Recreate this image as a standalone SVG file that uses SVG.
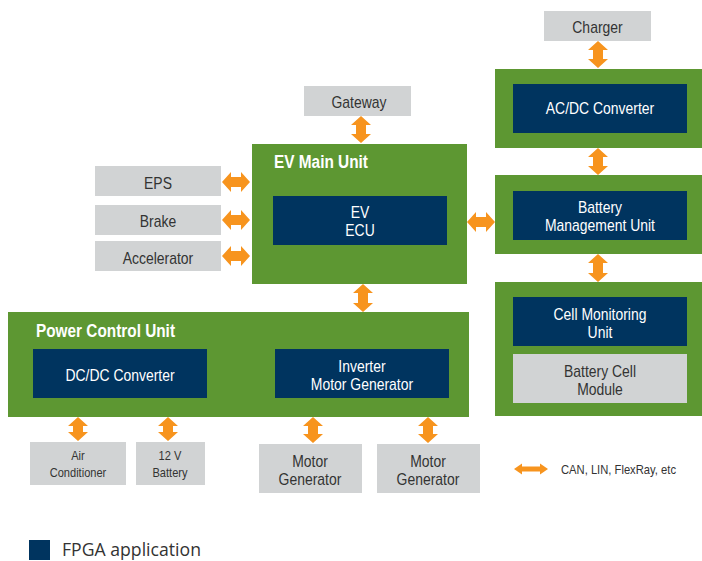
<svg xmlns="http://www.w3.org/2000/svg" width="702" height="561" viewBox="0 0 702 561">
<style>
.green{fill:#5d9732}
.navy{fill:#00345f}
.gray{fill:#d1d3d4}
.arr{fill:#f7941e}
text{font-family:"Liberation Sans",Arial,sans-serif;text-anchor:middle}
.wt{fill:#ffffff;font-size:17px}
.dt{fill:#333333;font-size:17px}
.sm{fill:#333333;font-size:13.5px}
.title{fill:#ffffff;font-size:18px;font-weight:bold;text-anchor:start}
</style>
<rect width="702" height="561" fill="#ffffff"/>
<g id="charger"><rect class="gray" x="544" y="11" width="107" height="30"/><text class="dt" x="597.5" y="33" textLength="50.4" lengthAdjust="spacingAndGlyphs">Charger</text></g>
<g id="acdc-unit"><rect class="green" x="495" y="69" width="207" height="79"/><rect class="navy" x="513" y="84" width="174" height="49"/><text class="wt" x="600" y="114" textLength="108.4" lengthAdjust="spacingAndGlyphs">AC/DC Converter</text></g>
<g id="bmu-unit"><rect class="green" x="495" y="175" width="207" height="79"/><rect class="navy" x="513" y="191" width="174" height="49"/><text class="wt" x="600" y="213" textLength="44.2" lengthAdjust="spacingAndGlyphs">Battery</text><text class="wt" x="600" y="231" textLength="110" lengthAdjust="spacingAndGlyphs">Management Unit</text></g>
<g id="cell-unit"><rect class="green" x="495" y="282" width="207" height="134"/><rect class="navy" x="513" y="297" width="174" height="49"/><text class="wt" x="600" y="320" textLength="92.9" lengthAdjust="spacingAndGlyphs">Cell Monitoring</text><text class="wt" x="600" y="338" textLength="24.8" lengthAdjust="spacingAndGlyphs">Unit</text><rect class="gray" x="513" y="354" width="174" height="49"/><text class="dt" x="600" y="377" textLength="72" lengthAdjust="spacingAndGlyphs">Battery Cell</text><text class="dt" x="600" y="395" textLength="45.7" lengthAdjust="spacingAndGlyphs">Module</text></g>
<g id="gateway"><rect class="gray" x="304" y="86" width="107" height="30"/><text class="dt" x="359" y="108" textLength="55" lengthAdjust="spacingAndGlyphs">Gateway</text></g>
<g id="ev-main-unit"><rect class="green" x="252" y="144" width="215" height="140"/><text class="title" x="274" y="168" textLength="94" lengthAdjust="spacingAndGlyphs">EV Main Unit</text><rect class="navy" x="273" y="196" width="174" height="49"/><text class="wt" x="360" y="218" textLength="18.6" lengthAdjust="spacingAndGlyphs">EV</text><text class="wt" x="360" y="236" textLength="29.4" lengthAdjust="spacingAndGlyphs">ECU</text></g>
<g id="eps"><rect class="gray" x="95" y="166" width="126" height="30"/><text class="dt" x="158" y="189" textLength="27.9" lengthAdjust="spacingAndGlyphs">EPS</text></g>
<g id="brake"><rect class="gray" x="95" y="205" width="126" height="30"/><text class="dt" x="158" y="227" textLength="36.4" lengthAdjust="spacingAndGlyphs">Brake</text></g>
<g id="accelerator"><rect class="gray" x="95" y="241" width="126" height="30"/><text class="dt" x="158" y="264" textLength="70.5" lengthAdjust="spacingAndGlyphs">Accelerator</text></g>
<g id="power-control-unit"><rect class="green" x="8" y="312" width="461" height="105"/><text class="title" x="36" y="337" textLength="139" lengthAdjust="spacingAndGlyphs">Power Control Unit</text><rect class="navy" x="33" y="349" width="174" height="49"/><text class="wt" x="120" y="381" textLength="109.2" lengthAdjust="spacingAndGlyphs">DC/DC Converter</text><rect class="navy" x="275" y="349" width="174" height="49"/><text class="wt" x="362" y="372" textLength="47.3" lengthAdjust="spacingAndGlyphs">Inverter</text><text class="wt" x="362" y="390" textLength="102.3" lengthAdjust="spacingAndGlyphs">Motor Generator</text></g>
<g id="air-conditioner"><rect class="gray" x="30" y="442" width="96" height="43"/><text class="sm" x="78" y="460" textLength="13.5" lengthAdjust="spacingAndGlyphs">Air</text><text class="sm" x="78" y="477" textLength="56.6" lengthAdjust="spacingAndGlyphs">Conditioner</text></g>
<g id="battery-12v"><rect class="gray" x="136" y="442" width="69" height="43"/><text class="sm" x="170" y="460" textLength="22.8" lengthAdjust="spacingAndGlyphs">12 V</text><text class="sm" x="170" y="477" textLength="35.1" lengthAdjust="spacingAndGlyphs">Battery</text></g>
<g id="motor-generator-1"><rect class="gray" x="259" y="444" width="103" height="49"/><text class="dt" x="310" y="467" textLength="35.6" lengthAdjust="spacingAndGlyphs">Motor</text><text class="dt" x="310" y="485" textLength="62.8" lengthAdjust="spacingAndGlyphs">Generator</text></g>
<g id="motor-generator-2"><rect class="gray" x="377" y="444" width="103" height="49"/><text class="dt" x="428" y="467" textLength="35.6" lengthAdjust="spacingAndGlyphs">Motor</text><text class="dt" x="428" y="485" textLength="62.8" lengthAdjust="spacingAndGlyphs">Generator</text></g>
<g id="connectors">
<polygon class="arr" points="598,41 608,50 603,50 603,59 608,59 598,68 588,59 593,59 593,50 588,50"/>
<polygon class="arr" points="598,148 608,157 603,157 603,166 608,166 598,175 588,166 593,166 593,157 588,157"/>
<polygon class="arr" points="598,254 608,263 603,263 603,273 608,273 598,282 588,273 593,273 593,263 588,263"/>
<polygon class="arr" points="361,116 371,125 366,125 366,134 371,134 361,143 351,134 356,134 356,125 351,125"/>
<polygon class="arr" points="363,284 373,293 368,293 368,303 373,303 363,312 353,303 358,303 358,293 353,293"/>
<polygon class="arr" points="222,182 231,172 231,177 241,177 241,172 250,182 241,192 241,187 231,187 231,192"/>
<polygon class="arr" points="222,220 231,210 231,215 241,215 241,210 250,220 241,230 241,225 231,225 231,230"/>
<polygon class="arr" points="222,256 231,246 231,251 241,251 241,246 250,256 241,266 241,261 231,261 231,266"/>
<polygon class="arr" points="467,222 476,212 476,217 486,217 486,212 495,222 486,232 486,227 476,227 476,232"/>
<polygon class="arr" points="78,417 88,426 83,426 83,432 88,432 78,441 68,432 73,432 73,426 68,426"/>
<polygon class="arr" points="168,417 178,426 173,426 173,432 178,432 168,441 158,432 163,432 163,426 158,426"/>
<polygon class="arr" points="313,417 323,426 318,426 318,434 323,434 313,443 303,434 308,434 308,426 303,426"/>
<polygon class="arr" points="428,417 438,426 433,426 433,434 438,434 428,443 418,434 423,434 423,426 418,426"/>
</g>
<g id="legend">
<polygon class="arr" points="514,469 522,463.5 522,466.5 540,466.5 540,463.5 548,469 540,474.5 540,471.5 522,471.5 522,474.5"/>
<text class="sm" x="561" y="474" style="text-anchor:start;font-size:13px" textLength="115" lengthAdjust="spacingAndGlyphs">CAN, LIN, FlexRay, etc</text>
<rect class="navy" x="29" y="540" width="21" height="20"/>
<text x="62" y="556" style="font-family:'Open Sans','Noto Sans',sans-serif;font-size:18px;fill:#333333;text-anchor:start" textLength="139" lengthAdjust="spacingAndGlyphs">FPGA application</text>
</g>
</svg>
